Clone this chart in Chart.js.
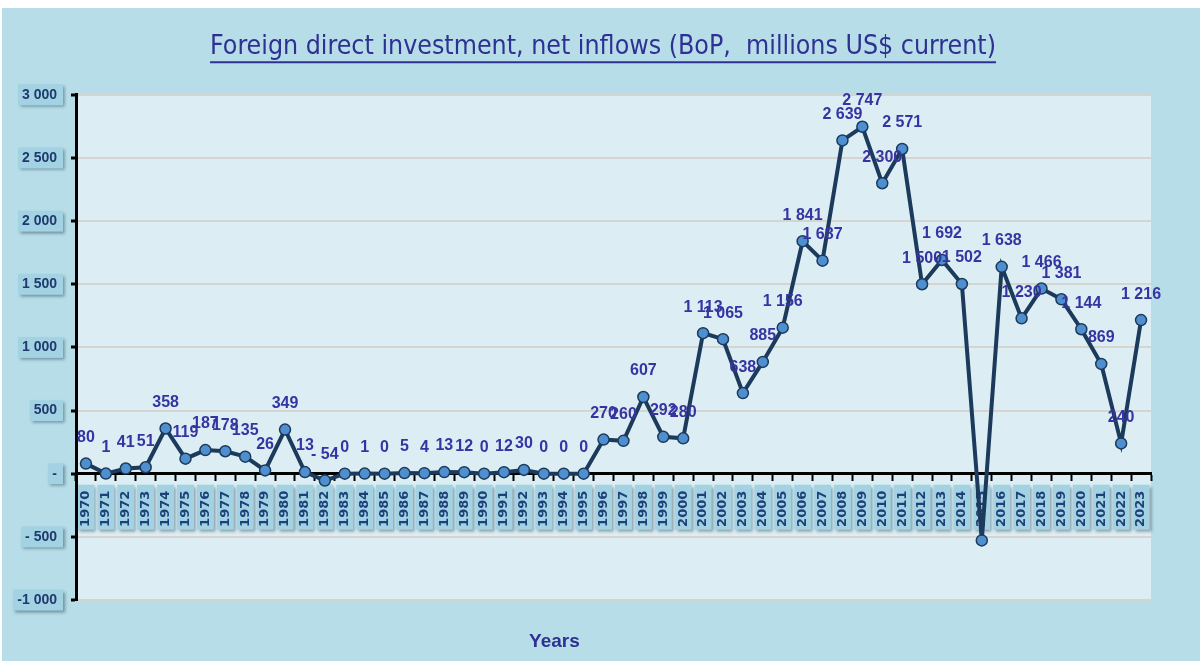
<!DOCTYPE html>
<html>
<head>
<meta charset="utf-8">
<script src="https://cdn.jsdelivr.net/npm/chart.js@4.4.0/dist/chart.umd.min.js"></script>
<style>
  html, body { margin: 0; padding: 0; background: #fff; }
  #wrap { position: absolute; left: 2px; top: 8px; width: 1198px; height: 653px; background: #b7dde8; }
</style>
</head>
<body>
<div id="wrap"><canvas id="fdi-chart"></canvas></div>
<script>
const years = [
  '1970', '1971', '1972', '1973', '1974', '1975', '1976', '1977', '1978', '1979',
  '1980', '1981', '1982', '1983', '1984', '1985', '1986', '1987', '1988', '1989',
  '1990', '1991', '1992', '1993', '1994', '1995', '1996', '1997', '1998', '1999',
  '2000', '2001', '2002', '2003', '2004', '2005', '2006', '2007', '2008', '2009',
  '2010', '2011', '2012', '2013', '2014', '2015', '2016', '2017', '2018', '2019',
  '2020', '2021', '2022', '2023',
];
const inflows = [
  80, 1, 41, 51, 358, 119, 187, 178, 135, 26,
  349, 13, -54, 0, 1, 0, 5, 4, 13, 12,
  0, 12, 30, 0, 0, 0, 270, 260, 607, 292,
  280, 1113, 1065, 638, 885, 1156, 1841, 1687, 2639, 2747,
  2300, 2571, 1500, 1692, 1502, -528, 1638, 1230, 1466, 1381,
  1144, 869, 240, 1216,
];
// years whose value label is not shown in the original
const unlabelledYears = ['2015'];
const yMin = -1000;
const yMax = 3000;
const yStep = 500;

const chartTitle = 'Foreign direct investment, net inflows (BoP,  millions US$ current)';
const xAxisName = 'Years';

const COND = "'DejaVu Sans Condensed', 'DejaVu Sans', sans-serif";
const ARIAL = "'Liberation Sans', Arial, sans-serif";
const BOX = '#a3d3e3';

function groupDigits(n) {
  return String(Math.abs(Math.round(n))).replace(/\B(?=(\d{3})+(?!\d))/g, ' ');
}

function tickText(v) {
  if (v === 0) return '-';
  if (v < 0) return (v <= -1000 ? '-' : '- ') + groupDigits(v);
  return groupDigits(v);
}

function pointText(v) {
  if (v < 0) return '- ' + groupDigits(v);
  return groupDigits(v);
}

const yTickFont = { family: ARIAL, size: 14, weight: 'bold' };

// plot area fill plus the shaded boxes behind the tick labels
const plotBackground = {
  id: 'plotBackground',
  beforeDraw(chart) {
    const { ctx, chartArea: a, scales } = chart;
    ctx.save();
    ctx.fillStyle = '#dcedf3';
    ctx.fillRect(a.left, a.top, a.right - a.left, a.bottom - a.top);

    ctx.shadowColor = 'rgba(20, 50, 70, 0.45)';
    ctx.shadowOffsetX = 2;
    ctx.shadowOffsetY = 2;
    ctx.shadowBlur = 3;
    ctx.fillStyle = BOX;

    // y labels
    const ys = scales.y;
    ctx.font = Chart.helpers.toFont(yTickFont).string;
    const textRight = a.left - ys.options.grid.tickLength - ys.options.ticks.padding;
    ys.ticks.forEach((t, i) => {
      const y = ys.getPixelForTick(i);
      const w = ctx.measureText(tickText(t.value)).width;
      ctx.fillRect(textRight - w - 4, y - 10.5, w + 10, 21);
    });

    // x labels
    const xs = scales.x;
    const zero = ys.getPixelForValue(0);
    xs.ticks.forEach((t, i) => {
      const x = xs.getPixelForTick(i);
      ctx.fillRect(x - 8.5, zero + 11, 17, 45);
    });
    ctx.restore();
  },
};

const titleUnderline = {
  id: 'titleUnderline',
  afterDraw(chart) {
    const { ctx } = chart;
    const tb = chart.titleBlock;
    const font = Chart.helpers.toFont(chart.options.plugins.title.font);
    const pad = Chart.helpers.toPadding(chart.options.plugins.title.padding);
    ctx.save();
    ctx.font = font.string;
    const w = ctx.measureText(chartTitle).width;
    const cx = (tb.left + tb.right) / 2;
    const y = tb.top + pad.top + font.lineHeight / 2 + font.size * 0.58;
    ctx.strokeStyle = '#2e3192';
    ctx.lineWidth = 2;
    ctx.beginPath();
    ctx.moveTo(cx - w / 2, y);
    ctx.lineTo(cx + w / 2, y);
    ctx.stroke();
    ctx.restore();
  },
};

const valueLabels = {
  id: 'valueLabels',
  afterDatasetsDraw(chart) {
    const { ctx } = chart;
    const meta = chart.getDatasetMeta(0);
    ctx.save();
    ctx.font = 'bold 16px ' + ARIAL;
    ctx.fillStyle = '#3634a2';
    ctx.textAlign = 'center';
    ctx.textBaseline = 'middle';
    meta.data.forEach((pt, i) => {
      if (unlabelledYears.includes(years[i])) return;
      ctx.fillText(pointText(inflows[i]), pt.x, pt.y - 26);
    });
    ctx.restore();
  },
};

const axisName = {
  id: 'axisName',
  afterDraw(chart) {
    const { ctx, chartArea: a } = chart;
    ctx.save();
    ctx.font = 'bold 19px ' + ARIAL;
    ctx.fillStyle = '#2e3192';
    ctx.textAlign = 'center';
    ctx.textBaseline = 'middle';
    ctx.fillText(xAxisName, a.left + (a.right - a.left) * 0.445, a.bottom + 42);
    ctx.restore();
  },
};

new Chart(document.getElementById('fdi-chart'), {
  type: 'line',
  data: {
    labels: years,
    datasets: [
      {
        data: inflows,
        borderColor: '#1b3a5c',
        borderWidth: 4,
        pointRadius: 5.5,
        pointBorderWidth: 1.5,
        pointBackgroundColor: '#4f8fcf',
        pointBorderColor: '#1b3a5c',
        tension: 0,
      },
    ],
  },
  options: {
    responsive: true,
    maintainAspectRatio: false,
    animation: false,
    layout: {
      padding: { left: 4, right: 0, top: 0, bottom: 61 },
    },
    scales: {
      x: {
        type: 'category',
        position: { y: 0 },
        offset: true,
        afterFit(scale) {
          scale.height = 0;
        },
        grid: {
          offset: true,
          drawOnChartArea: false,
          drawTicks: true,
          tickLength: 6,
          tickWidth: 2,
          tickColor: '#000',
        },
        border: { display: true, color: '#000', width: 3 },
        ticks: {
          autoSkip: false,
          minRotation: 90,
          maxRotation: 90,
          padding: 11,
          color: '#1d3f7a',
          font: { family: "'DejaVu Sans', sans-serif", size: 13, weight: 'bold', lineHeight: 1.2 },
        },
      },
      y: {
        min: yMin,
        max: yMax,
        afterFit(scale) {
          scale.width = 70;
        },
        grid: {
          color: '#d6d4d0',
          lineWidth: 2,
          drawTicks: true,
          tickLength: 5,
          tickWidth: 3,
          tickColor: '#000',
        },
        border: { display: true, color: '#000', width: 3 },
        ticks: {
          stepSize: yStep,
          padding: 14,
          color: '#1f3a6e',
          font: yTickFont,
          callback: (v) => tickText(v),
        },
      },
      // empty right axis: keeps room on the right without shifting the title
      spacer: {
        type: 'linear',
        position: 'right',
        display: true,
        afterFit(scale) {
          scale.width = 49;
        },
        ticks: { display: false },
        grid: { display: false },
        border: { display: false },
      },
    },
    plugins: {
      legend: { display: false },
      tooltip: { enabled: false },
      title: {
        display: true,
        text: chartTitle,
        color: '#2e3192',
        font: { family: COND, size: 26.5, weight: 'normal', lineHeight: 1.2 },
        padding: { top: 23, bottom: 32 },
      },
    },
  },
  plugins: [plotBackground, titleUnderline, valueLabels, axisName],
});
</script>
</body>
</html>
